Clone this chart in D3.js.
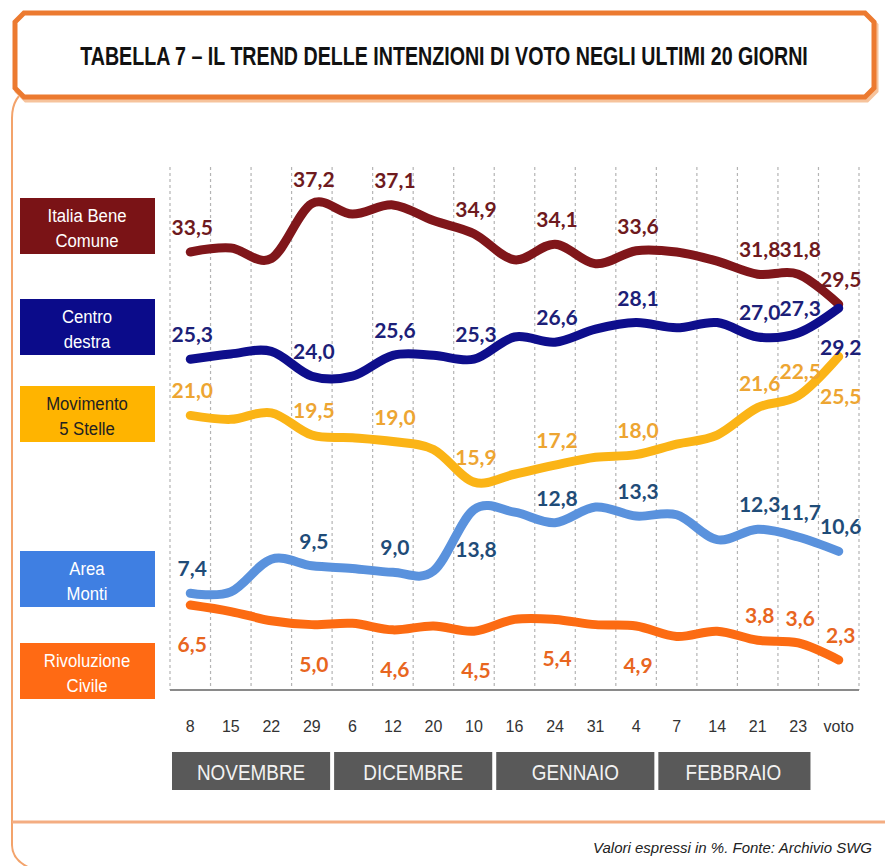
<!DOCTYPE html>
<html>
<head>
<meta charset="utf-8">
<script src="https://cdn.jsdelivr.net/npm/d3@7"></script>
<style>
  body { margin: 0; background: #fff; }
  svg { display: block; }
</style>
</head>
<body>
<script>
// x categories: survey dates, last one is the vote
const dates = ['8', '15', '22', '29', '6', '12', '20', '10', '16', '24', '31', '4', '7', '14', '21', '23', 'voto'];
const months = ['NOVEMBRE', 'DICEMBRE', 'GENNAIO', 'FEBBRAIO'];

// values (labelled points are exact, the others estimated from the curve)
const italiaBeneComune = [33.5, 33.8, 33.0, 37.2, 36.4, 37.1, 35.9, 34.9, 32.9, 34.1, 32.6, 33.6, 33.5, 32.8, 31.8, 31.8, 29.5];
const centroDestra = [25.3, 25.7, 25.9, 24.0, 24.0, 25.6, 25.6, 25.3, 27.0, 26.6, 27.6, 28.1, 27.7, 28.1, 27.0, 27.3, 29.2];
const movimento5Stelle = [21.0, 20.7, 21.2, 19.5, 19.3, 19.0, 18.4, 15.9, 16.5, 17.2, 17.8, 18.0, 18.8, 19.5, 21.6, 22.5, 25.5];
const areaMonti = [7.4, 7.5, 10.0, 9.5, 9.3, 9.0, 9.1, 13.8, 13.6, 12.8, 14.0, 13.3, 13.4, 11.5, 12.3, 11.7, 10.6];
const rivoluzioneCivile = [6.5, 6.0, 5.3, 5.0, 5.1, 4.6, 4.9, 4.5, 5.4, 5.4, 5.0, 4.9, 4.1, 4.5, 3.8, 3.6, 2.3];

// which points carry a value label, and which of those sit under the line
const series = [
  { name: ['Italia Bene', 'Comune'], values: italiaBeneComune, labelled: [0, 3, 5, 7, 9, 11, 14, 15, 16], below: [],
    line: '#80161a', text: '#6e1a1e', box: '#7a1316', boxText: '#fff', boxTop: 198 },
  { name: ['Centro', 'destra'], values: centroDestra, labelled: [0, 3, 5, 7, 9, 11, 14, 15, 16], below: [16],
    line: '#0e0e8c', text: '#1c2078', box: '#0b0b8a', boxText: '#fff', boxTop: 299 },
  { name: ['Movimento', '5 Stelle'], values: movimento5Stelle, labelled: [0, 3, 5, 7, 9, 11, 14, 15, 16], below: [16],
    line: '#fbb416', text: '#eda532', box: '#ffb400', boxText: '#222', boxTop: 386 },
  { name: ['Area', 'Monti'], values: areaMonti, labelled: [0, 3, 5, 7, 9, 11, 14, 15, 16], below: [7],
    line: '#5a92dd', text: '#1f4c78', box: '#3f7fe2', boxText: '#fff', boxTop: 551 },
  { name: ['Rivoluzione', 'Civile'], values: rivoluzioneCivile, labelled: [0, 3, 5, 7, 9, 11, 14, 15, 16], below: [0, 3, 5, 7, 9, 11],
    line: '#fc6b12', text: '#e8661f', box: '#ff6a14', boxText: '#fff', boxTop: 643 }
];

const W = 885, H = 866;
const plot = { left: 170, right: 859, top: 167, bottom: 690 };
const narrow = '"Liberation Sans Narrow", "Arial Narrow", "Liberation Sans", sans-serif';
const fmt = v => d3.format('.1f')(v).replace('.', ',');

const svg = d3.select('body').append('svg')
  .attr('width', W).attr('height', H);

// squeeze a text horizontally so it fits a width (no condensed font available)
function squeeze(sel, cx, cy, width) {
  const w = sel.node().getComputedTextLength();
  const k = Math.min(1, width / w);
  sel.attr('x', 0).attr('y', 0)
    .attr('transform', `translate(${cx},${cy}) scale(${k},1)`);
}

// outer frame (left side, bottom-left corner, footer rule)
svg.append('path')
  .attr('d', 'M30,88 Q12,96 12,118 L12,845 Q12,860 30,868')
  .attr('fill', 'none').attr('stroke', '#f3a36b').attr('stroke-width', 2);
svg.append('line')
  .attr('x1', 12).attr('x2', W).attr('y1', 822).attr('y2', 822)
  .attr('stroke', '#f4ad82').attr('stroke-width', 3);

// title box with chamfered corners
const tb = { x0: 15, x1: 874, y0: 13, y1: 97, c: 9 };
const tbPath = `M${tb.x0 + tb.c},${tb.y0} L${tb.x1 - tb.c},${tb.y0} L${tb.x1},${tb.y0 + tb.c} L${tb.x1},${tb.y1 - tb.c} L${tb.x1 - tb.c},${tb.y1} L${tb.x0 + tb.c},${tb.y1} L${tb.x0},${tb.y1 - tb.c} L${tb.x0},${tb.y0 + tb.c} Z`;
svg.append('path').attr('d', tbPath)
  .attr('transform', 'translate(2,3)')
  .attr('fill', 'none').attr('stroke', '#f6c39c').attr('stroke-width', 5);
svg.append('path').attr('d', tbPath)
  .attr('fill', '#fff').attr('stroke', '#ec7a30').attr('stroke-width', 5);
const title = svg.append('text')
  .attr('text-anchor', 'middle')
  .attr('font-family', narrow).attr('font-weight', 'bold').attr('font-size', 26)
  .attr('fill', '#111')
  .text('TABELLA 7 – IL TREND DELLE INTENZIONI DI VOTO NEGLI ULTIMI 20 GIORNI');
squeeze(title, 444, 65, 728);

// scales
const x = d3.scaleBand().domain(dates).range([plot.left, plot.right]);
const y = d3.scaleLinear().domain([0, 40]).range([plot.bottom, plot.top]);
const cx = d => x(d) + x.bandwidth() / 2;

// dashed vertical gridlines at band edges
const edges = dates.map(d => x(d)).concat([plot.right]);
svg.append('g').selectAll('line').data(edges).join('line')
  .attr('x1', d => d).attr('x2', d => d)
  .attr('y1', y(40)).attr('y2', y(0))
  .attr('stroke', '#b4b4b4').attr('stroke-width', 1.2).attr('stroke-dasharray', '3,3');

// x axis
const xAxis = svg.append('g')
  .attr('transform', `translate(0,${y(0)})`)
  .call(d3.axisBottom(x).tickSize(0).tickPadding(31));
xAxis.select('.domain').remove();
xAxis.selectAll('text')
  .attr('font-family', narrow).attr('font-size', 16).attr('fill', '#333');
svg.append('line')
  .attr('x1', plot.left).attr('x2', plot.right).attr('y1', y(0)).attr('y2', y(0))
  .attr('stroke', '#8a8a8a').attr('stroke-width', 2);

// month bars, four dates each
const monthG = svg.append('g').selectAll('g').data(months).join('g');
monthG.append('rect')
  .attr('x', (d, i) => x(dates[i * 4]) + 2)
  .attr('width', (d, i) => x.bandwidth() * 4 - (i === 3 ? 10 : 4))
  .attr('y', 752).attr('height', 38)
  .attr('fill', '#595959');
monthG.append('text')
  .attr('text-anchor', 'middle')
  .attr('font-family', narrow).attr('font-size', 22).attr('fill', '#f2f2f2')
  .text(d => d)
  .each(function (d, i) {
    const t = d3.select(this);
    const w = this.getComputedTextLength();
    squeeze(t, x(dates[i * 4]) + (x.bandwidth() * 4 - (i === 3 ? 8 : 0)) / 2, 780, w * 0.86);
  });

// lines
const line = d3.line()
  .x((d, i) => cx(dates[i]))
  .y(d => y(d))
  .curve(d3.curveCardinal);

svg.append('g').selectAll('path').data(series).join('path')
  .attr('d', s => line(s.values))
  .attr('fill', 'none')
  .attr('stroke', s => s.line)
  .attr('stroke-width', 9)
  .attr('stroke-linecap', 'round')
  .attr('stroke-linejoin', 'round');

// value labels
series.forEach(s => {
  svg.append('g').selectAll('text').data(s.labelled).join('text')
    .attr('x', i => cx(dates[i]) + 2)
    .attr('y', i => y(s.values[i]) + (s.below.includes(i) ? 47 : -17))
    .attr('text-anchor', 'middle')
    .attr('font-family', 'Lato, "Liberation Sans", sans-serif')
    .attr('font-weight', 'bold').attr('font-size', 21)
    .attr('fill', s.text)
    .text(i => fmt(s.values[i]));
});

// legend boxes on the left
const leg = svg.append('g').selectAll('g').data(series).join('g')
  .attr('transform', s => `translate(20,${s.boxTop})`);
leg.append('rect')
  .attr('width', 135).attr('height', 56)
  .attr('fill', s => s.box);
leg.each(function (s) {
  const g = d3.select(this);
  s.name.forEach((n, i) => {
    const t = g.append('text')
      .attr('text-anchor', 'middle')
      .attr('font-family', narrow).attr('font-size', 19)
      .attr('fill', s.boxText)
      .text(n);
    squeeze(t, 67, i === 0 ? 24 : 49, t.node().getComputedTextLength() * 0.88);
  });
});

// source note
svg.append('text')
  .attr('x', 872).attr('y', 853)
  .attr('text-anchor', 'end')
  .attr('font-family', narrow).attr('font-style', 'italic').attr('font-size', 15)
  .attr('fill', '#222')
  .text('Valori espressi in %. Fonte: Archivio SWG');
</script>
</body>
</html>
